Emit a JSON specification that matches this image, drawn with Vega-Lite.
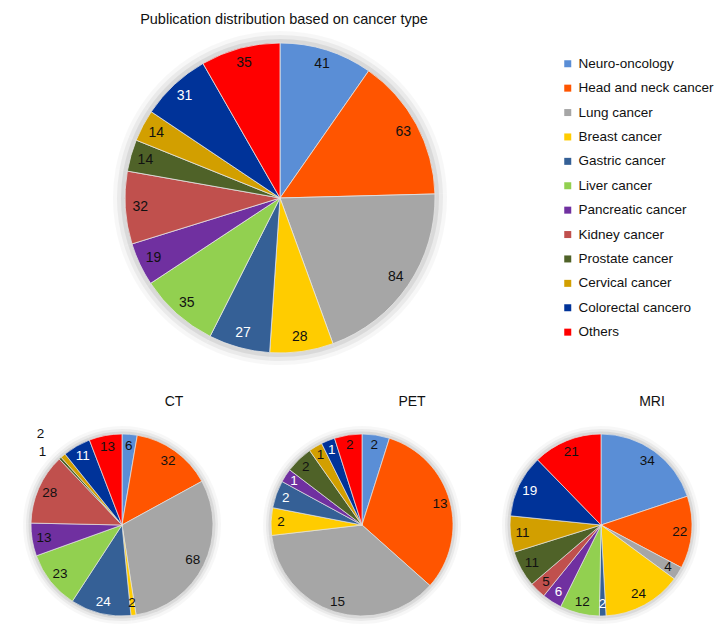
{
  "$schema": "https://vega.github.io/schema/vega-lite/v6.json",
  "background": "white",
  "padding": {"left": 22, "top": 11, "right": 0, "bottom": 0},
  "config": {
    "view": {"stroke": null},
    "font": "Liberation Sans",
    "title": {"fontWeight": "normal", "color": "#111111"}
  },
  "datasets": {
    "pubs": [
      {"modality": "All", "type": "Neuro-oncology", "value": 41},
      {"modality": "All", "type": "Head and neck cancer", "value": 63},
      {"modality": "All", "type": "Lung cancer", "value": 84},
      {"modality": "All", "type": "Breast cancer", "value": 28},
      {"modality": "All", "type": "Gastric cancer", "value": 27},
      {"modality": "All", "type": "Liver cancer", "value": 35},
      {"modality": "All", "type": "Pancreatic cancer", "value": 19},
      {"modality": "All", "type": "Kidney cancer", "value": 32},
      {"modality": "All", "type": "Prostate cancer", "value": 14},
      {"modality": "All", "type": "Cervical cancer", "value": 14},
      {"modality": "All", "type": "Colorectal cancero", "value": 31},
      {"modality": "All", "type": "Others", "value": 35},
      {"modality": "CT", "type": "Neuro-oncology", "value": 6},
      {"modality": "CT", "type": "Head and neck cancer", "value": 32},
      {"modality": "CT", "type": "Lung cancer", "value": 68},
      {"modality": "CT", "type": "Breast cancer", "value": 2},
      {"modality": "CT", "type": "Gastric cancer", "value": 24},
      {"modality": "CT", "type": "Liver cancer", "value": 23},
      {"modality": "CT", "type": "Pancreatic cancer", "value": 13},
      {"modality": "CT", "type": "Kidney cancer", "value": 28},
      {"modality": "CT", "type": "Prostate cancer", "value": 1},
      {"modality": "CT", "type": "Cervical cancer", "value": 2},
      {"modality": "CT", "type": "Colorectal cancero", "value": 11},
      {"modality": "CT", "type": "Others", "value": 13},
      {"modality": "PET", "type": "Neuro-oncology", "value": 2},
      {"modality": "PET", "type": "Head and neck cancer", "value": 13},
      {"modality": "PET", "type": "Lung cancer", "value": 15},
      {"modality": "PET", "type": "Breast cancer", "value": 2},
      {"modality": "PET", "type": "Gastric cancer", "value": 2},
      {"modality": "PET", "type": "Pancreatic cancer", "value": 1},
      {"modality": "PET", "type": "Prostate cancer", "value": 2},
      {"modality": "PET", "type": "Cervical cancer", "value": 1},
      {"modality": "PET", "type": "Colorectal cancero", "value": 1},
      {"modality": "PET", "type": "Others", "value": 2},
      {"modality": "MRI", "type": "Neuro-oncology", "value": 34},
      {"modality": "MRI", "type": "Head and neck cancer", "value": 22},
      {"modality": "MRI", "type": "Lung cancer", "value": 4},
      {"modality": "MRI", "type": "Breast cancer", "value": 24},
      {"modality": "MRI", "type": "Gastric cancer", "value": 2},
      {"modality": "MRI", "type": "Liver cancer", "value": 12},
      {"modality": "MRI", "type": "Pancreatic cancer", "value": 6},
      {"modality": "MRI", "type": "Kidney cancer", "value": 5},
      {"modality": "MRI", "type": "Prostate cancer", "value": 11},
      {"modality": "MRI", "type": "Cervical cancer", "value": 11},
      {"modality": "MRI", "type": "Colorectal cancero", "value": 19},
      {"modality": "MRI", "type": "Others", "value": 21}
    ]
  },
  "data": {"name": "pubs"},
  "transform": [{"window": [{"op": "row_number", "as": "rank"}]}],
  "resolve": {"scale": {"color": "shared"}, "legend": {"color": "independent"}},
  "spacing": 30,
  "vconcat": [
    {
      "width": 516,
      "height": 334,
      "title": {"text": "Publication distribution based on cancer type", "fontSize": 14.5, "dx": 4, "offset": 4},
      "transform": [{"filter": "datum.modality === 'All'"}],
      "encoding": {
        "theta": {"field": "value", "type": "quantitative", "stack": "normalize"},
        "order": {"field": "rank", "type": "quantitative"},
        "detail": {"field": "type", "type": "nominal"},
        "color": {
          "field": "type",
          "type": "nominal",
          "sort": ["Neuro-oncology", "Head and neck cancer", "Lung cancer", "Breast cancer", "Gastric cancer", "Liver cancer", "Pancreatic cancer", "Kidney cancer", "Prostate cancer", "Cervical cancer", "Colorectal cancero", "Others"],
          "scale": {
            "domain": ["Neuro-oncology", "Head and neck cancer", "Lung cancer", "Breast cancer", "Gastric cancer", "Liver cancer", "Pancreatic cancer", "Kidney cancer", "Prostate cancer", "Cervical cancer", "Colorectal cancero", "Others"],
            "range": ["#5A8ED6", "#FF5500", "#A6A6A6", "#FFCC00", "#356096", "#92D050", "#7030A0", "#C0504D", "#4F6228", "#D29F00", "#003399", "#FF0000"]
          },
          "legend": {
            "orient": "none",
            "legendX": 539,
            "legendY": 26,
            "title": null,
            "symbolType": "square",
            "symbolSize": 49,
            "symbolStrokeWidth": 0,
            "labelFontSize": 13.5,
            "labelColor": "#111111",
            "labelOffset": 4,
            "rowPadding": 9.4,
            "labelLimit": 200
          }
        }
      },
      "layer": [
        {"mark": {"type": "arc", "outerRadius": 167, "opacity": 0.03, "fill": "#000000", "strokeWidth": 0}, "encoding": {"color": {"value": "#000000"}}},
        {"mark": {"type": "arc", "outerRadius": 163, "opacity": 0.05, "fill": "#000000", "strokeWidth": 0}, "encoding": {"color": {"value": "#000000"}}},
        {"mark": {"type": "arc", "outerRadius": 159, "opacity": 0.07, "fill": "#000000", "strokeWidth": 0}, "encoding": {"color": {"value": "#000000"}}},
        {"mark": {"type": "arc", "outerRadius": 155, "stroke": "#e4e4e4", "strokeWidth": 0.8}},
        {
          "mark": {"type": "text", "radius": 140, "fontSize": 14},
          "encoding": {
            "text": {"field": "value", "type": "quantitative"},
            "color": {"condition": {"test": "datum.type === 'Gastric cancer' || datum.type === 'Colorectal cancero'", "value": "#ffffff"}, "value": "#111111"}
          }
        }
      ]
    },
    {
      "spacing": 40,
      "resolve": {"scale": {"color": "shared"}, "legend": {"color": "independent"}},
      "hconcat": [
        {
          "width": 200,
          "height": 200,
          "title": {"text": "CT", "fontSize": 14, "dx": 52, "offset": 16},
          "transform": [
            {"filter": "datum.modality === 'CT'"},
            {"stack": "value", "groupby": [], "sort": [{"field": "rank", "order": "ascending"}], "offset": "normalize", "as": ["s0", "s1"]}
          ],
          "encoding": {
            "theta": {"field": "value", "type": "quantitative", "stack": "normalize"},
            "order": {"field": "rank", "type": "quantitative"},
            "detail": {"field": "type", "type": "nominal"},
            "color": {"field": "type", "type": "nominal", "legend": null}
          },
          "layer": [
            {"mark": {"type": "arc", "outerRadius": 99, "opacity": 0.03, "fill": "#000000", "strokeWidth": 0}, "encoding": {"color": {"value": "#000000"}}},
            {"mark": {"type": "arc", "outerRadius": 96, "opacity": 0.05, "fill": "#000000", "strokeWidth": 0}, "encoding": {"color": {"value": "#000000"}}},
            {"mark": {"type": "arc", "outerRadius": 93.5, "opacity": 0.07, "fill": "#000000", "strokeWidth": 0}, "encoding": {"color": {"value": "#000000"}}},
            {"mark": {"type": "arc", "outerRadius": 91, "stroke": "#e4e4e4", "strokeWidth": 0.7}},
            {
              "mark": {"type": "text", "radius": 79, "fontSize": 13.5},
              "encoding": {
                "text": {"condition": {"test": "datum.type === 'Prostate cancer' || datum.type === 'Cervical cancer'", "value": ""}, "field": "value", "type": "quantitative"},
                "color": {"condition": {"test": "datum.type === 'Gastric cancer' || datum.type === 'Colorectal cancero'", "value": "#ffffff"}, "value": "#111111"}
              }
            },
            {
              "transform": [{"filter": "datum.type === 'Prostate cancer'"}],
              "mark": {"type": "text", "radius": 108, "fontSize": 13.5, "dx": -5, "dy": 5, "color": "#111111"},
              "encoding": {
                "theta": {"field": "s0", "type": "quantitative", "stack": null},
                "order": null,
                "detail": null,
                "text": {"field": "value", "type": "quantitative"},
                "color": {"value": "#111111"}
              }
            },
            {
              "transform": [{"filter": "datum.type === 'Cervical cancer'"}],
              "mark": {"type": "text", "radius": 122, "fontSize": 13.5, "color": "#111111"},
              "encoding": {
                "theta": {"field": "s0", "type": "quantitative", "stack": null},
                "order": null,
                "detail": null,
                "text": {"field": "value", "type": "quantitative"},
                "color": {"value": "#111111"}
              }
            }
          ]
        },
        {
          "width": 200,
          "height": 200,
          "title": {"text": "PET", "fontSize": 14, "dx": 50, "offset": 16},
          "transform": [{"filter": "datum.modality === 'PET'"}],
          "encoding": {
            "theta": {"field": "value", "type": "quantitative", "stack": "normalize"},
            "order": {"field": "rank", "type": "quantitative"},
            "detail": {"field": "type", "type": "nominal"},
            "color": {"field": "type", "type": "nominal", "legend": null}
          },
          "layer": [
            {"mark": {"type": "arc", "outerRadius": 99, "opacity": 0.03, "fill": "#000000", "strokeWidth": 0}, "encoding": {"color": {"value": "#000000"}}},
            {"mark": {"type": "arc", "outerRadius": 96, "opacity": 0.05, "fill": "#000000", "strokeWidth": 0}, "encoding": {"color": {"value": "#000000"}}},
            {"mark": {"type": "arc", "outerRadius": 93.5, "opacity": 0.07, "fill": "#000000", "strokeWidth": 0}, "encoding": {"color": {"value": "#000000"}}},
            {"mark": {"type": "arc", "outerRadius": 91, "stroke": "#e4e4e4", "strokeWidth": 0.7}},
            {
              "mark": {"type": "text", "radius": 81, "fontSize": 13.5},
              "encoding": {
                "text": {"field": "value", "type": "quantitative"},
                "color": {"condition": {"test": "datum.type === 'Gastric cancer' || datum.type === 'Colorectal cancero' || datum.type === 'Pancreatic cancer'", "value": "#ffffff"}, "value": "#111111"}
              }
            }
          ]
        },
        {
          "width": 192,
          "height": 200,
          "title": {"text": "MRI", "fontSize": 14, "dx": 51, "offset": 16},
          "transform": [{"filter": "datum.modality === 'MRI'"}],
          "encoding": {
            "theta": {"field": "value", "type": "quantitative", "stack": "normalize"},
            "order": {"field": "rank", "type": "quantitative"},
            "detail": {"field": "type", "type": "nominal"},
            "color": {"field": "type", "type": "nominal", "legend": null}
          },
          "layer": [
            {"mark": {"type": "arc", "outerRadius": 99, "opacity": 0.03, "fill": "#000000", "strokeWidth": 0}, "encoding": {"color": {"value": "#000000"}}},
            {"mark": {"type": "arc", "outerRadius": 96, "opacity": 0.05, "fill": "#000000", "strokeWidth": 0}, "encoding": {"color": {"value": "#000000"}}},
            {"mark": {"type": "arc", "outerRadius": 93.5, "opacity": 0.07, "fill": "#000000", "strokeWidth": 0}, "encoding": {"color": {"value": "#000000"}}},
            {"mark": {"type": "arc", "outerRadius": 91, "stroke": "#e4e4e4", "strokeWidth": 0.7}},
            {
              "mark": {"type": "text", "radius": 79, "fontSize": 13.5},
              "encoding": {
                "text": {"field": "value", "type": "quantitative"},
                "color": {"condition": {"test": "datum.type === 'Gastric cancer' || datum.type === 'Colorectal cancero' || datum.type === 'Pancreatic cancer'", "value": "#ffffff"}, "value": "#111111"}
              }
            }
          ]
        }
      ]
    }
  ]
}
